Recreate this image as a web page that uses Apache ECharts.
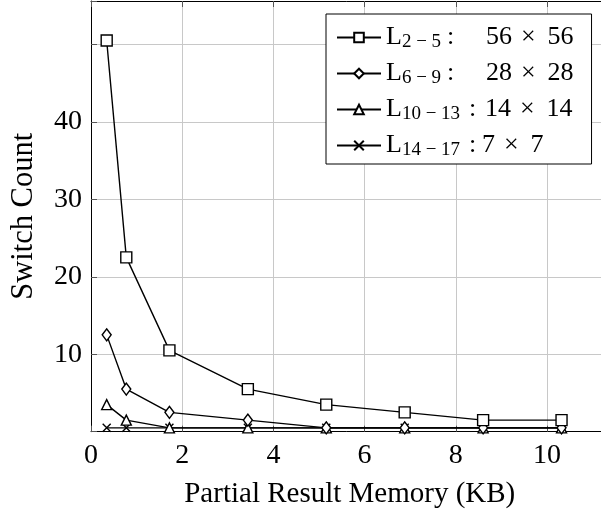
<!DOCTYPE html>
<html>
<head>
<meta charset="utf-8">
<script src="https://cdn.jsdelivr.net/npm/echarts@6/dist/echarts.min.js"></script>
<style>html,body{margin:0;padding:0;background:#fff}#c{width:601px;height:512px}</style>
</head>
<body>
<div id="c"></div>
<script>
// ---- data ----
const memoryKB = [0.344, 0.774, 1.72, 3.44, 5.16, 6.88, 8.6, 10.32];
const switchL2_5 = [50.5, 22.5, 10.5, 5.5, 3.5, 2.5, 1.5, 1.5];
const switchL6_9 = [12.5, 5.5, 2.5, 1.5, 0.5, 0.5, 0.5, 0.5];
const switchL10_13 = [3.5, 1.5, 0.5, 0.5, 0.5, 0.5, 0.5, 0.5];
const switchL14_17 = [0.5, 0.5, 0.5, 0.5, 0.5, 0.5, 0.5, 0.5];
const layerRanges = ['2 − 5', '6 − 9', '10 − 13', '14 − 17'];
const fmapSizes = [56, 28, 14, 7];
const xTicks = [0, 2, 4, 6, 8, 10];
const yTicks = [10, 20, 30, 40];
const xTitle = 'Partial Result Memory (KB)';
const yTitle = 'Switch Count';

const FONT = '"Liberation Serif", "Times New Roman", serif';
const seriesValues = [switchL2_5, switchL6_9, switchL10_13, switchL14_17];
const symbols = ['rect', 'diamond', 'triangle', 'path://M0 0L10 10M10 0L0 10'];
const symbolSizes = [11, [9, 12], 10, 8];
const names = layerRanges.map((r, i) => 'L' + r + ': ' + fmapSizes[i] + ' × ' + fmapSizes[i]);
const subStyle = ['sS', 'sS', 'sL', 'sL'];
const colStyle = ['c1', 'c1', 'c3', 'c4'];

const series = seriesValues.map((vals, i) => ({
  name: names[i],
  type: 'line',
  data: memoryKB.map((x, j) => [x, vals[j]]),
  symbol: symbols[i],
  symbolSize: symbolSizes[i],
  showSymbol: true,
  lineStyle: { color: '#000', width: 1.4 },
  itemStyle: { color: '#fff', borderColor: '#000', borderWidth: 1.4 },
  z: 10 - i,
  animation: false
}));

const chart = echarts.init(document.getElementById('c'), null, { renderer: 'canvas' });
chart.setOption({
  animation: false,
  backgroundColor: '#fff',
  grid: { left: 91, top: 1, right: -7.5, bottom: 80.3, containLabel: false, outerBoundsMode: 'none' },
  xAxis: [{
    type: 'value', min: 0, max: 11.35, interval: 2, position: 'bottom',
    name: xTitle, nameLocation: 'middle', nameGap: 48,
    nameTextStyle: { fontFamily: FONT, fontSize: 29, color: '#000' },
    axisLine: { show: true, lineStyle: { color: '#000', width: 1 } },
    axisTick: { show: true, inside: true, length: 6, lineStyle: { color: '#555' } },
    axisLabel: { fontFamily: FONT, fontSize: 28, color: '#000', margin: 10,
      formatter: v => xTicks.includes(v) ? String(v) : '' },
    splitLine: { show: true, lineStyle: { color: '#c8c8c8', width: 1 } }
  }, {
    type: 'value', min: 0, max: 11.35, interval: 2, position: 'top',
    axisLine: { show: true, lineStyle: { color: '#000', width: 1 } },
    axisTick: { show: true, inside: true, length: 6, lineStyle: { color: '#555' } },
    axisLabel: { show: false }, splitLine: { show: false }
  }],
  yAxis: {
    type: 'value', min: 0, max: 55.6, interval: 10,
    name: yTitle, nameLocation: 'middle', nameGap: 52, nameRotate: 90,
    nameTextStyle: { fontFamily: FONT, fontSize: 30.5, color: '#000' },
    axisLine: { show: true, lineStyle: { color: '#000', width: 1 } },
    axisTick: { show: true, inside: true, length: 6, lineStyle: { color: '#555' } },
    axisLabel: { fontFamily: FONT, fontSize: 28, color: '#000', margin: 9, padding: [9, 0, 0, 0],
      formatter: v => yTicks.includes(v) ? String(v) : '' },
    splitLine: { show: true, lineStyle: { color: '#c8c8c8', width: 1 } }
  },
  legend: {
    orient: 'vertical', left: 326, top: 14,
    data: names,
    itemWidth: 44, itemHeight: 12, itemGap: 7,
    padding: [9, 18, 4, 10],
    backgroundColor: '#fff', borderColor: '#000', borderWidth: 1, borderRadius: 0,
    formatter: function (name) {
      const i = names.indexOf(name);
      const n = fmapSizes[i];
      return '{L|L}{' + subStyle[i] + '|' + layerRanges[i] + '}{' + colStyle[i] + '|:}{v|' + n + '}{x|×}{v|' + n + '}';
    },
    textStyle: {
      fontFamily: FONT, fontSize: 26, color: '#000',
      rich: {
        L: { fontFamily: FONT, fontSize: 26, lineHeight: 35, color: '#000' },
        sS: { fontFamily: FONT, fontSize: 19, lineHeight: 19, padding: [10, 0, 0, 0], width: 45, color: '#000' },
        sL: { fontFamily: FONT, fontSize: 19, lineHeight: 19, padding: [10, 0, 0, 0], width: 67, color: '#000' },
        c1: { fontFamily: FONT, fontSize: 26, lineHeight: 35, width: 39, color: '#000' },
        c3: { fontFamily: FONT, fontSize: 26, lineHeight: 35, width: 16, color: '#000' },
        c4: { fontFamily: FONT, fontSize: 26, lineHeight: 35, width: 13, color: '#000' },
        v: { fontFamily: FONT, fontSize: 26, lineHeight: 35, color: '#000' },
        x: { fontFamily: FONT, fontSize: 26, lineHeight: 35, padding: [0, 12, 0, 9], color: '#000' }
      }
    }
  },
  series: series
});
</script>
</body>
</html>
